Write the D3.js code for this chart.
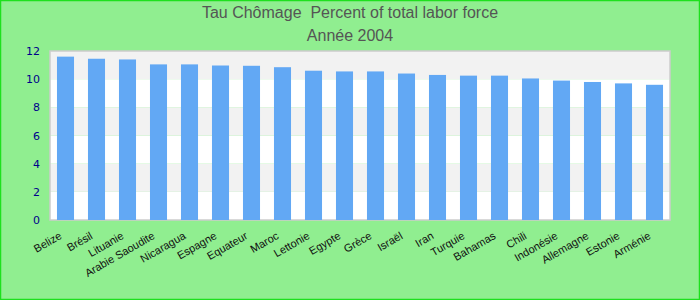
<!DOCTYPE html>
<html>
<head>
<meta charset="utf-8">
<script src="https://cdn.jsdelivr.net/npm/d3@7"></script>
<style>
  html, body { margin: 0; padding: 0; }
  body { width: 700px; height: 300px; overflow: hidden; }
</style>
</head>
<body>
<div id="chart"></div>
<script>
var pays = ["Belize", "Brésil", "Lituanie", "Arabie Saoudite", "Nicaragua", "Espagne", "Equateur", "Maroc",
            "Lettonie", "Egypte", "Grèce", "Israël", "Iran", "Turquie", "Bahamas", "Chili",
            "Indonésie", "Allemagne", "Estonie", "Arménie"];
var chomage = [11.6, 11.45, 11.4, 11.05, 11.05, 10.97, 10.95, 10.85,
               10.6, 10.55, 10.55, 10.4, 10.3, 10.25, 10.25, 10.05,
               9.9, 9.8, 9.7, 9.6];
var yTicks = [0, 2, 4, 6, 8, 10, 12];
var titre = ["Tau Chômage  Percent of total labor force", "Année 2004"];

var W = 700, H = 300;
var margin = {top: 51, right: 30, bottom: 80, left: 50},
    width = W - margin.left - margin.right,
    height = H - margin.top - margin.bottom;

var svg = d3.select("#chart").append("svg")
    .attr("width", W)
    .attr("height", H);

// fond + bordure
svg.append("rect")
    .attr("x", 0.5).attr("y", 0.5)
    .attr("width", W - 1).attr("height", H - 1)
    .attr("fill", "#90ee90")
    .attr("stroke", "#1ee01e")
    .attr("stroke-width", 1.5);

// titre
svg.selectAll(".titre")
    .data(titre)
    .enter().append("text")
    .attr("x", W / 2)
    .attr("y", function(d, i) { return 18 + i * 23; })
    .attr("text-anchor", "middle")
    .style("white-space", "pre")
    .style("font-family", "'Liberation Sans', Arial, sans-serif")
    .style("font-size", "16px")
    .style("fill", "#555")
    .text(function(d) { return d; });

var g = svg.append("g")
    .attr("transform", "translate(" + margin.left + "," + margin.top + ")");

var x = d3.scaleBand().domain(pays).range([0, width]).paddingInner(0.45).paddingOuter(0.225);
var y = d3.scaleLinear().domain([0, 12]).range([height, 0]);

// bandes alternées
g.selectAll(".bande")
    .data(yTicks.slice(0, -1))
    .enter().append("rect")
    .attr("x", 0)
    .attr("y", function(d) { return y(d + 2); })
    .attr("width", width)
    .attr("height", function(d) { return y(d) - y(d + 2); })
    .attr("fill", function(d, i) { return i % 2 ? "#f2f2f2" : "#ffffff"; });

g.append("rect")
    .attr("x", 0).attr("y", 0)
    .attr("width", width).attr("height", height)
    .attr("fill", "none")
    .attr("stroke", "#cccccc")
    .attr("stroke-width", 1.5);

// barres
g.selectAll(".barre")
    .data(chomage)
    .enter().append("rect")
    .attr("x", function(d, i) { return x(pays[i]); })
    .attr("y", function(d) { return y(d); })
    .attr("width", x.bandwidth())
    .attr("height", function(d) { return height - y(d); })
    .attr("fill", "#62a8f4");

// axe Y
var yAxis = g.append("g")
    .call(d3.axisLeft(y).tickValues(yTicks).tickSize(0).tickPadding(10));
yAxis.select(".domain").remove();
yAxis.selectAll("text")
    .style("font-family", "'DejaVu Sans', sans-serif")
    .style("font-size", "11px")
    .style("fill", "#00008b");

// axe X
var xAxis = g.append("g")
    .attr("transform", "translate(0," + height + ")")
    .call(d3.axisBottom(x).tickSize(0).tickPadding(0));
xAxis.select(".domain").remove();
xAxis.selectAll("text")
    .attr("text-anchor", "end")
    .attr("dy", 0)
    .attr("transform", "translate(-3,18) rotate(-30)")
    .style("font-family", "'Liberation Sans', Arial, sans-serif")
    .style("font-size", "11px")
    .style("fill", "#111");
</script>
</body>
</html>
